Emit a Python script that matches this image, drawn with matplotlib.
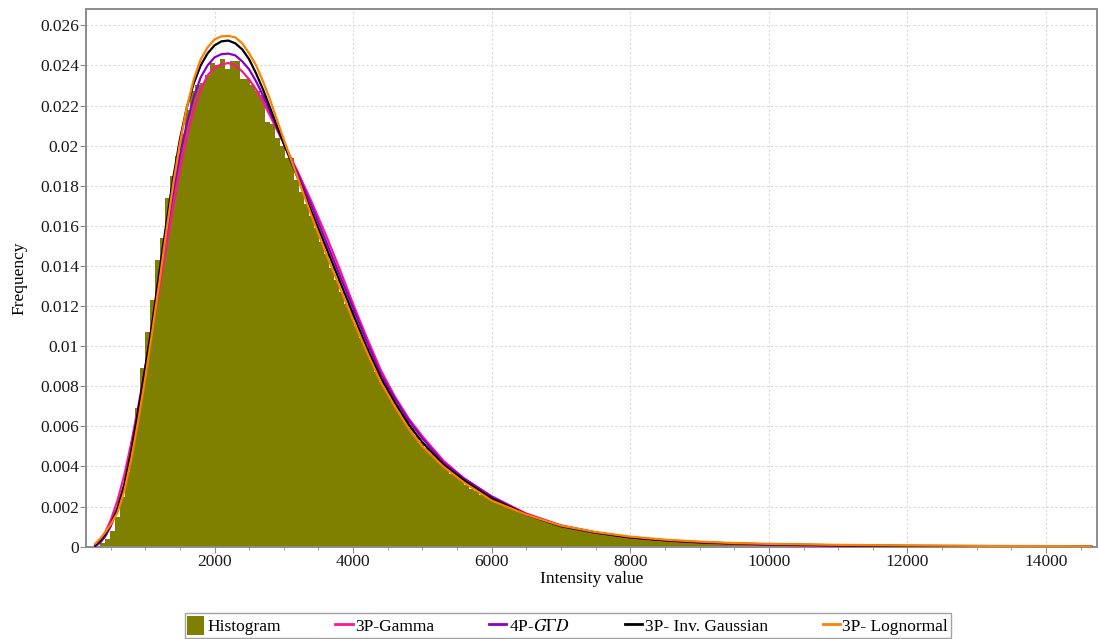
import matplotlib
matplotlib.use("Agg")
import matplotlib.pyplot as plt
from matplotlib.ticker import MultipleLocator, FuncFormatter
from matplotlib.patches import Patch
from matplotlib.lines import Line2D
import numpy as np

plt.rcParams['font.family'] = ['Liberation Serif', 'DejaVu Serif']
plt.rcParams['mathtext.fontset'] = 'stix'

# histogram: 200 bins of ~72 starting at 274
bin_start = 274
bin_width = 72
hist_heights = [
    0.00003, 0.0002, 0.0004, 0.0008, 0.0015, 0.0025, 0.0037, 0.0052, 0.0069, 0.0089,
    0.0107, 0.0123, 0.0143, 0.0154, 0.0174, 0.0185, 0.0195, 0.0206, 0.0218, 0.0227,
    0.0230, 0.0231, 0.0235, 0.0241, 0.0240, 0.0243, 0.0238, 0.0242, 0.0242, 0.0233,
    0.0233, 0.0230, 0.0227, 0.0225, 0.0212, 0.0211, 0.0204, 0.0200, 0.0194, 0.0194,
    0.0183, 0.0177, 0.0171, 0.0165, 0.0159, 0.0152, 0.0146, 0.0139, 0.0133, 0.0127,
    0.0121, 0.0118, 0.0110, 0.0104, 0.0099, 0.0093, 0.0087, 0.0082, 0.0078, 0.0074,
    0.0070, 0.0066, 0.0063, 0.0059, 0.0055, 0.0052, 0.0049, 0.0046, 0.0044, 0.0041,
    0.0039, 0.0036, 0.0035, 0.0033, 0.0031, 0.0029, 0.0028, 0.0026, 0.0025, 0.0024,
    0.0022, 0.00216, 0.0020, 0.0019, 0.0018, 0.0017, 0.0016, 0.0015, 0.0014, 0.00132,
    0.00124, 0.00116, 0.00108, 0.00101, 0.00095, 0.00089, 0.00083, 0.00078, 0.00073, 0.00069,
    0.00065, 0.00061, 0.00057, 0.00054, 0.00051, 0.00048, 0.00045, 0.00042, 0.0004, 0.00038,
    0.00036, 0.00034, 0.00032, 0.0003, 0.00028, 0.00027, 0.00025, 0.00024, 0.00022, 0.00021,
    0.0002, 0.00019, 0.00018, 0.00017, 0.00016, 0.00016, 0.00015, 0.00014, 0.00013, 0.00013,
    0.00012, 0.00012, 0.00011, 0.00011, 0.0001, 0.0001, 0.00009, 0.00009, 0.00008, 0.00008,
    0.00007, 0.00007, 0.00007, 0.00006, 0.00006, 0.00006, 0.00005, 0.00005, 0.00005, 0.00004,
    0.00004, 0.00004, 0.00004, 0.00003, 0.00003, 0.00003, 0.00003, 0.00003, 0.00002, 0.00002,
    0.00002, 0.00002, 0.00002, 0.00002, 0.00002, 0.00002, 0.00002, 0.00002, 0.00002, 0.00002,
    0.00001, 0.00001, 0.00001, 0.00001, 0.00001, 0.00001, 0.00001, 0.00001, 0.00001, 0.00001,
    0.00001, 0.00001, 0.00001, 0.00001, 0.00001, 0.00001, 0.00001, 0.00001, 0.00001, 0.00001,
    0.00001, 0.00001, 0.00001, 0.00001, 0.00001, 0.00001, 0.00001, 0.00001, 0.00001, 0.00001,
]

# fitted curves, read at these x positions
fit_x = [280, 350, 420, 500, 600, 700, 800, 900, 1000, 1100,
         1200, 1300, 1400, 1500, 1600, 1700, 1800, 1900, 2000, 2100,
         2200, 2300, 2400, 2500, 2600, 2700, 2800, 2900, 3000, 3200,
         3400, 3600, 3800, 4000, 4200, 4400, 4600, 4800, 5000, 5300,
         5600, 6000, 6500, 7000, 7500, 8000, 8500, 9000, 9500, 10000,
         11000, 12000, 13000, 14000, 14650]

gamma_3p = [0.00005, 0.0003, 0.0007, 0.0013, 0.0023, 0.0036, 0.0052, 0.0070, 0.0089, 0.0108,
            0.0128, 0.0149, 0.0169, 0.0188, 0.0204, 0.0218, 0.0228, 0.0235, 0.0239, 0.02405,
            0.02412, 0.0240, 0.0237, 0.0233, 0.0228, 0.0222, 0.0215, 0.0208, 0.0201, 0.0187,
            0.0172, 0.0156, 0.0139, 0.0121, 0.0104, 0.0088, 0.0075, 0.0064, 0.0055, 0.0043,
            0.0034, 0.0025, 0.00165, 0.00106, 0.00071, 0.00046, 0.00031, 0.0002, 0.00013, 0.00009,
            0.00004, 0.00002, 0.00001, 0.000005, 0.000003]

ggd_4p = [0.00003, 0.0002, 0.0005, 0.0010, 0.0019, 0.0031, 0.0048, 0.0068, 0.0089, 0.0110,
          0.0133, 0.0155, 0.0176, 0.0195, 0.0211, 0.0224, 0.0234, 0.0240, 0.0244, 0.02456,
          0.02459, 0.0245, 0.0242, 0.0238, 0.0232, 0.0225, 0.0217, 0.0209, 0.0201, 0.0186,
          0.0170, 0.0153, 0.0136, 0.0119, 0.0102, 0.0086, 0.0074, 0.0063, 0.0054, 0.0042,
          0.0034, 0.0025, 0.0016, 0.00104, 0.0007, 0.00046, 0.00031, 0.00021, 0.00015, 0.0001,
          0.00005, 0.00003, 0.00002, 0.00001, 0.000005]

inv_gauss_3p = [0.00008, 0.0003, 0.0006, 0.0011, 0.0019, 0.0031, 0.0048, 0.0068, 0.0089, 0.0111,
                0.0136, 0.0160, 0.0183, 0.0203, 0.0219, 0.0231, 0.0240, 0.0246, 0.0250, 0.0252,
                0.02524, 0.0251, 0.0248, 0.0243, 0.0236, 0.0228, 0.0219, 0.0210, 0.0201, 0.0184,
                0.0167, 0.0150, 0.0133, 0.0116, 0.0099, 0.0084, 0.0072, 0.0061, 0.0052, 0.0041,
                0.0033, 0.0024, 0.0016, 0.00102, 0.0007, 0.00046, 0.00032, 0.00022, 0.00016, 0.00012,
                0.00007, 0.00004, 0.00003, 0.00002, 0.00001]

lognormal_3p = [0.00015, 0.0004, 0.0007, 0.0011, 0.0017, 0.0028, 0.0044, 0.0063, 0.0084, 0.0107,
                0.0131, 0.0156, 0.0180, 0.0201, 0.0219, 0.0233, 0.0243, 0.0249, 0.0253, 0.02545,
                0.02547, 0.0254, 0.0251, 0.0246, 0.0240, 0.0232, 0.0223, 0.0213, 0.0203, 0.0184,
                0.0165, 0.0147, 0.0130, 0.0113, 0.0097, 0.0082, 0.0070, 0.0059, 0.0050, 0.0040,
                0.0032, 0.0023, 0.0016, 0.00105, 0.00073, 0.0005, 0.00035, 0.00025, 0.00018, 0.00014,
                0.00009, 0.00006, 0.00004, 0.00003, 0.00002]

olive = '#808000'
c_gamma = '#ff1493'
c_ggd = '#8a00c8'
c_ig = '#000000'
c_logn = '#ff8000'

fig = plt.figure(figsize=(10.98, 6.39), dpi=100)
ax = fig.add_axes([0.0783, 0.1445, 0.9208, 0.841])

edges = bin_start + bin_width * np.arange(len(hist_heights))
ax.bar(edges, hist_heights, width=bin_width, align='edge', color=olive,
       linewidth=0, zorder=2)

lw = 1.6
ax.plot(fit_x, gamma_3p, color=c_gamma, lw=lw, zorder=3)
ax.plot(fit_x, ggd_4p, color=c_ggd, lw=lw, zorder=3)
ax.plot(fit_x, inv_gauss_3p, color=c_ig, lw=lw, zorder=3)
ax.plot(fit_x, lognormal_3p, color=c_logn, lw=lw, zorder=3)

ax.set_xlim(145, 14735)
ax.set_ylim(0, 0.0268)

ax.xaxis.set_major_locator(MultipleLocator(2000))
ax.xaxis.set_minor_locator(MultipleLocator(500))
ax.yaxis.set_major_locator(MultipleLocator(0.002))
ax.yaxis.set_major_formatter(FuncFormatter(lambda v, p: f'{v:g}' if v > 1e-9 else '0'))
ax.xaxis.set_major_formatter(FuncFormatter(lambda v, p: f'{v:.0f}'))

ax.grid(True, which='major', color='#d8d8d8', linestyle=(0, (2, 2)), linewidth=0.8, zorder=0)
ax.set_axisbelow(True)

for s in ax.spines.values():
    s.set_color('#8c8c8c')
    s.set_linewidth(1.4)

ax.tick_params(axis='both', which='major', length=4, color='#8c8c8c', labelsize=12.5,
               labelcolor='#1a1a1a')
ax.tick_params(axis='both', which='minor', length=2, color='#8c8c8c')
ax.tick_params(axis='x', pad=1)
ax.tick_params(axis='y', pad=1)

ax.set_xlabel('Intensity value', fontsize=12.5, labelpad=1)
ax.set_ylabel('Frequency', fontsize=12.5, labelpad=9)

handles = [
    Patch(facecolor=olive, edgecolor='none'),
    Line2D([], [], color=c_gamma, lw=2),
    Line2D([], [], color=c_ggd, lw=2),
    Line2D([], [], color=c_ig, lw=2),
    Line2D([], [], color=c_logn, lw=2),
]
labels = ['Histogram', '3P-Gamma', '4P-$G\\Gamma D$', '3P- Inv. Gaussian', '3P- Lognormal']
leg = fig.legend(handles, labels, loc='center', bbox_to_anchor=(0.517, 0.021), ncol=5,
                 fontsize=12.5, frameon=True, fancybox=False, edgecolor='#8c8c8c',
                 handlelength=1.0, handleheight=1.3, handletextpad=0.15,
                 columnspacing=3.15, borderpad=0.15, borderaxespad=0)
leg.get_frame().set_linewidth(1.0)

fig.savefig('out.png', dpi=100)
